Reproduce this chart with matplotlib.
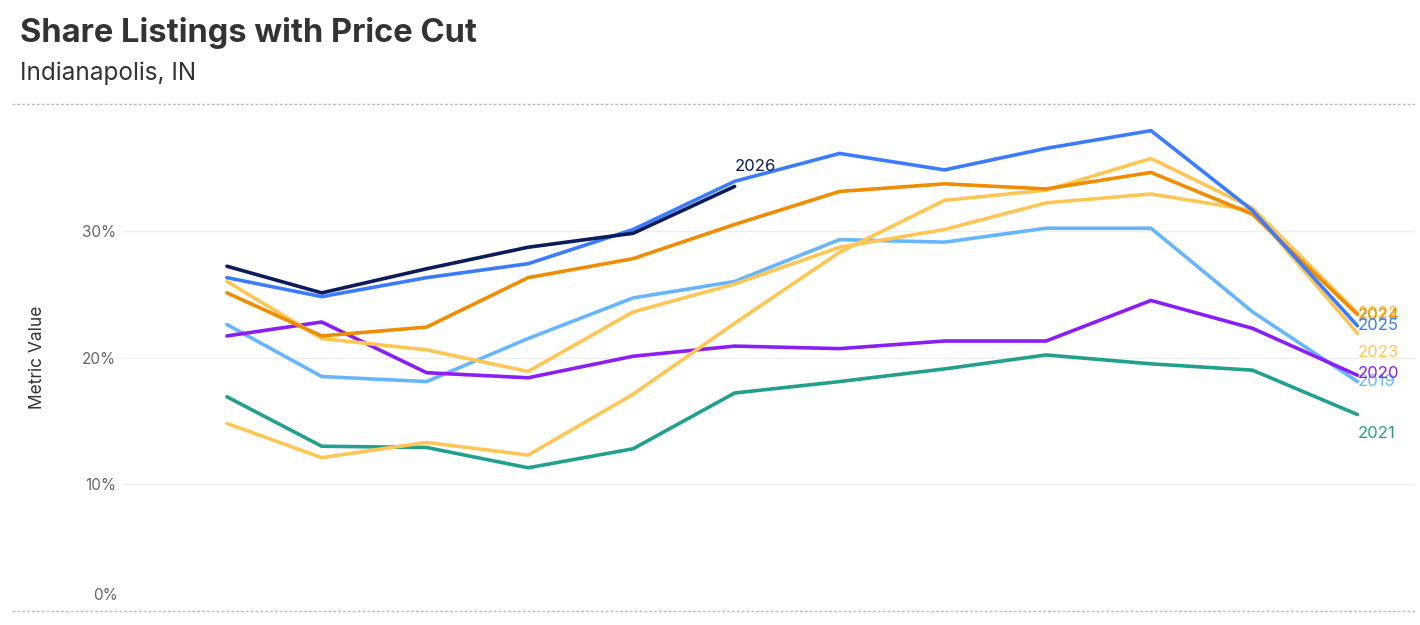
'''Share of listings with a price cut, Indianapolis - yearly lines'''

import matplotlib
matplotlib.use('Agg')
import matplotlib.pyplot as plt
import matplotlib.transforms as mtrans
from matplotlib.lines import Line2D
import pandas as pd

plt.rcParams['font.family'] = ['Inter', 'DejaVu Sans']

# one point per month, placed at the month end
months = pd.date_range('2023-01-31', periods=12, freq='ME')

years = ['2019', '2020', '2021', '2022', '2023', '2024', '2025', '2026']
cut_2019 = [22.6, 18.5, 18.1, 21.5, 24.7, 26.0, 29.3, 29.1, 30.2, 30.2, 23.6, 18.1]
cut_2020 = [21.7, 22.8, 18.8, 18.4, 20.1, 20.9, 20.7, 21.3, 21.3, 24.5, 22.3, 18.6]
cut_2021 = [16.9, 13.0, 12.9, 11.3, 12.8, 17.2, 18.1, 19.1, 20.2, 19.5, 19.0, 15.5]
cut_2022 = [14.8, 12.1, 13.3, 12.3, 17.1, 22.7, 28.3, 32.4, 33.2, 35.7, 31.8, 23.5]
cut_2023 = [26.0, 21.5, 20.6, 18.9, 23.6, 25.8, 28.7, 30.1, 32.2, 32.9, 31.6, 21.9]
cut_2024 = [25.1, 21.7, 22.4, 26.3, 27.8, 30.5, 33.1, 33.7, 33.3, 34.6, 31.3, 23.4]
cut_2025 = [26.3, 24.8, 26.3, 27.4, 30.1, 33.9, 36.1, 34.8, 36.5, 37.9, 31.6, 22.5]
cut_2026 = [27.2, 25.1, 27.0, 28.7, 29.8, 33.5]

series = {
    '2019': cut_2019, '2020': cut_2020, '2021': cut_2021, '2022': cut_2022,
    '2023': cut_2023, '2024': cut_2024, '2025': cut_2025, '2026': cut_2026,
}
colors = {
    '2019': '#66b6ff', '2020': '#8a1ef5', '2021': '#22a08d', '2022': '#ffc655',
    '2023': '#ffc655', '2024': '#f08c00', '2025': '#3b7bff', '2026': '#0b1b5c',
}
label_colors = dict(colors)
label_colors['2022'] = '#f7b830'
# label nudges (points), to keep end labels apart
label_dy = {'2019': 0, '2020': 1, '2021': -14, '2022': 0, '2023': -14,
            '2024': -1, '2025': 0, '2026': 14}

fig = plt.figure(figsize=(14.2, 6.25), dpi=100)
ax = fig.add_axes([122 / 1420, 14 / 625, 1293 / 1420, 507 / 625])

for yr in years:
    vals = series[yr]
    ax.plot(months[:len(vals)], vals, color=colors[yr], lw=2.6,
            solid_capstyle='round', solid_joinstyle='round',
            zorder=3 if yr != '2026' else 4)

for yr in years:
    vals = series[yr]
    ax.annotate(yr, (months[len(vals) - 1], vals[-1]),
                xytext=(0, label_dy[yr]), textcoords='offset points',
                ha='left', va='center', fontsize=12,
                color=label_colors[yr], zorder=5)

ax.set_xlim(pd.Timestamp('2022-12-31'), pd.Timestamp('2024-01-17'))
ax.set_ylim(0, 40)
ax.set_xticks([])
ax.set_yticks([10, 20, 30])
ax.set_yticklabels(['10%', '20%', '30%'])
ax.tick_params(axis='y', length=0, pad=4, labelsize=11, labelcolor='#666666')
ax.grid(axis='y', color='#eeeeee', lw=1)
ax.set_axisbelow(True)
for s in ax.spines.values():
    s.set_visible(False)

trans = mtrans.blended_transform_factory(ax.transAxes, ax.transData)
ax.text(-0.003, 0.6, '0%', transform=trans, ha='right', va='bottom',
        fontsize=11, color='#666666')

fig.text(38 / 1420, 1 - 357 / 625, 'Metric Value', rotation=90,
         ha='center', va='center', fontsize=12.5, color='#333333')

fig.text(20 / 1420, 1 - 33 / 625, 'Share Listings with Price Cut',
         ha='left', va='center', fontsize=23.5, fontweight='bold', color='#333333')
fig.text(20 / 1420, 1 - 73 / 625, 'Indianapolis, IN',
         ha='left', va='center', fontsize=17.5, color='#333333')

for ypix in (104, 611):
    fig.add_artist(Line2D([12 / 1420, 1415 / 1420], [1 - ypix / 625] * 2,
                          transform=fig.transFigure, color='#bbbbbb',
                          lw=1, ls=(0, (2, 1.5))))

fig.savefig('out.png', dpi=100)
